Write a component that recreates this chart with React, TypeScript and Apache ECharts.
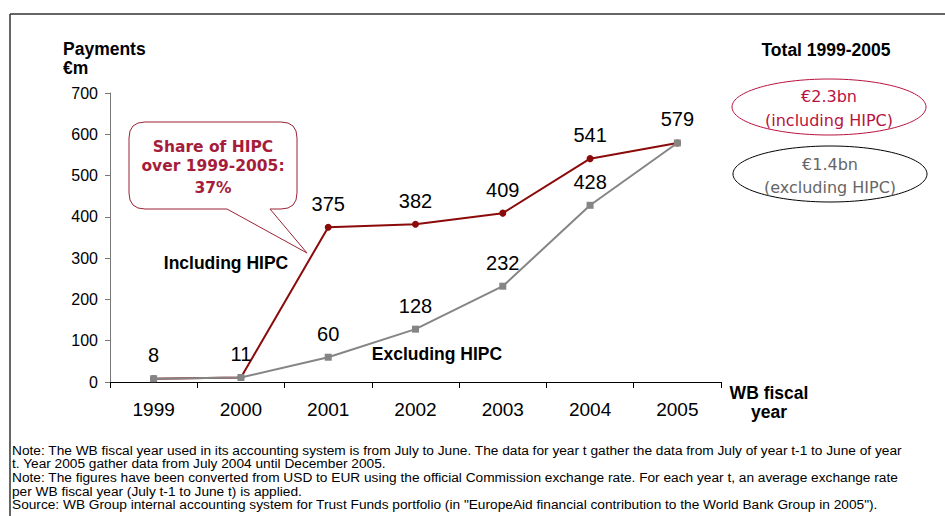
import React, { useEffect, useRef } from "react";
import * as echarts from "echarts";

const years = ["1999", "2000", "2001", "2002", "2003", "2004", "2005"];
const includingHIPC = [8, 11, 375, 382, 409, 541, 579];
const excludingHIPC = [8, 11, 60, 128, 232, 428, 579];
const includingLabelShown = [true, true, true, true, true, true, true];
const excludingLabelShown = [false, false, true, true, true, true, false];
const yMin = 0;
const yMax = 700;
const yInterval = 100;

const calloutLines = ["Share of HIPC", "over 1999-2005:", "37%"];
const totalIncl = ["€2.3bn", "(including HIPC)"];
const totalExcl = ["€1.4bn", "(excluding HIPC)"];
const notes = [
  "Note: The WB fiscal year used in its accounting system is from July to June. The data for year t gather the data from July of year t-1 to June of year",
  "t. Year 2005 gather data from July 2004 until December 2005.",
  "Note: The figures have been converted from USD to EUR using the official Commission exchange rate. For each year t, an average exchange rate",
  "per WB fiscal year (July t-1 to June t) is applied.",
  'Source: WB Group internal accounting system for Trust Funds portfolio (in "EuropeAid financial contribution to the World Bank Group in 2005").',
];

const RED = "#8B0A0A";
const GREY = "#858585";
const CRIMSON = "#B8123E";
const SANS = "Arial, 'Liberation Sans', sans-serif";
const VERD = "'DejaVu Sans', Verdana, sans-serif";

const calloutPath =
  "M145,122 H281 Q297,122 297,138 V193 Q297,209 281,209 H270 L307,253 L227,209 H145 Q129,209 129,193 V138 Q129,122 145,122 Z";

let registered = false;

export default function App() {
  const ref = useRef<HTMLDivElement>(null);
  useEffect(() => {
    document.body.style.margin = "0";
    if (!registered) {
      echarts.graphic.registerShape("callout", echarts.graphic.extendPath(calloutPath, {}) as any);
      registered = true;
    }
    const chart = echarts.init(ref.current!, null, { renderer: "svg" });
    const labelStyle = {
      position: "top",
      distance: 10,
      color: "#000",
      fontSize: 20,
      fontFamily: SANS,
    };
    const text = (
      t: string,
      x: number,
      y: number,
      font: string,
      fill: string,
      align: string = "center"
    ) => ({
      type: "text",
      x,
      y,
      style: { text: t, font, fill, align, verticalAlign: "middle" },
      z: 100,
    });
    const graphics: any[] = [
      { type: "line", shape: { x1: 10, y1: 14, x2: 945, y2: 14 }, style: { stroke: "#333", lineWidth: 1.5 } },
      { type: "line", shape: { x1: 10, y1: 14, x2: 10, y2: 516 }, style: { stroke: "#333", lineWidth: 1.5 } },
      text("Payments", 63, 49, `bold 17.5px ${SANS}`, "#000", "left"),
      text("€m", 63, 68, `bold 17.5px ${SANS}`, "#000", "left"),
      text("Total 1999-2005", 826, 50, `bold 17.5px ${SANS}`, "#000"),
      { type: "ellipse", shape: { cx: 829, cy: 107, rx: 97, ry: 28 }, style: { fill: "none", stroke: CRIMSON, lineWidth: 1 } },
      text(totalIncl[0], 829, 96, `16px ${VERD}`, CRIMSON),
      text(totalIncl[1], 829, 120, `16px ${VERD}`, CRIMSON),
      { type: "ellipse", shape: { cx: 830, cy: 174, rx: 97, ry: 28 }, style: { fill: "none", stroke: "#000", lineWidth: 1 } },
      text(totalExcl[0], 830, 164, `16px ${VERD}`, "#666"),
      text(totalExcl[1], 830, 187, `16px ${VERD}`, "#666"),
      { type: "callout", x: 0, y: 0, style: { fill: "#fff", stroke: "#9B2335", lineWidth: 1 }, z: 90 },
      text(calloutLines[0], 213, 147, `bold 15.5px ${VERD}`, "#A51D3A"),
      text(calloutLines[1], 213, 166, `bold 15.5px ${VERD}`, "#A51D3A"),
      text(calloutLines[2], 213, 188, `bold 15.5px ${VERD}`, "#A51D3A"),
      text("Including HIPC", 226, 263, `bold 17.5px ${SANS}`, "#000"),
      text("Excluding HIPC", 437, 354, `bold 17.5px ${SANS}`, "#000"),
      text("WB fiscal", 769, 393, `bold 17.5px ${SANS}`, "#000"),
      text("year", 769, 412, `bold 17.5px ${SANS}`, "#000"),
      ...notes.map((n, i) => text(n, 12, 450 + i * 13.7, `13.7px ${SANS}`, "#000", "left")),
    ];
    chart.setOption({
      animation: false,
      grid: { left: 110, right: 224, top: 93, bottom: 134 },
      xAxis: {
        type: "category",
        data: years,
        boundaryGap: true,
        axisLine: { lineStyle: { color: "#000", width: 1 } },
        axisTick: { show: true, length: 6, lineStyle: { color: "#000" } },
        axisLabel: { color: "#000", fontSize: 19, fontFamily: SANS, margin: 18 },
        splitLine: { show: false },
      },
      yAxis: {
        type: "value",
        min: yMin,
        max: yMax,
        interval: yInterval,
        axisLine: { show: true, lineStyle: { color: "#777", width: 1 } },
        axisTick: { show: true, length: 5, lineStyle: { color: "#777" } },
        axisLabel: { color: "#000", fontSize: 16, fontFamily: SANS, margin: 12 },
        splitLine: { show: false },
      },
      series: [
        {
          type: "line",
          data: includingHIPC.map((v, i) => ({ value: v, label: { show: includingLabelShown[i] } })),
          symbol: "circle",
          symbolSize: 7,
          lineStyle: { color: RED, width: 2 },
          itemStyle: { color: RED },
          label: labelStyle,
          z: 2,
        },
        {
          type: "line",
          data: excludingHIPC.map((v, i) => ({ value: v, label: { show: excludingLabelShown[i] } })),
          symbol: "rect",
          symbolSize: 7,
          lineStyle: { color: GREY, width: 2 },
          itemStyle: { color: GREY },
          label: labelStyle,
          z: 3,
        },
      ],
      graphic: graphics,
    });
    return () => chart.dispose();
  }, []);
  return <div ref={ref} style={{ width: 945, height: 516 }} />;
}
